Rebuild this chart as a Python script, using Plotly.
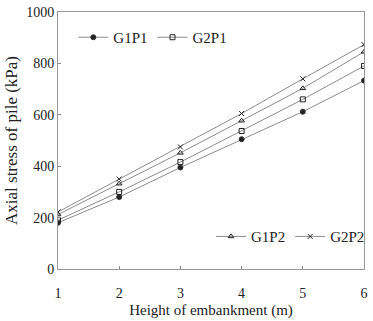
import plotly.graph_objects as go

heights = [1, 2, 3, 4, 5, 6]
g1p1 = [180, 280, 395, 505, 612, 733]
g2p1 = [190, 300, 416, 537, 660, 790]
g1p2 = [212, 332, 452, 577, 703, 845]
g2p2 = [222, 350, 475, 605, 740, 873]

series = [
    ("G1P1", g1p1, "circle", "legend"),
    ("G2P1", g2p1, "square-open", "legend"),
    ("G1P2", g1p2, "triangle-up-open", "legend2"),
    ("G2P2", g2p2, "x-thin-open", "legend2"),
]

fig = go.Figure()
for name, vals, sym, lg in series:
    fig.add_trace(go.Scatter(
        x=heights, y=vals, name=name, mode="lines+markers",
        line=dict(color="#8c8c8c", width=1),
        marker=dict(symbol=sym, size=5, color="#222222",
                    line=dict(color="#333333", width=1)),
        legend=lg,
    ))

font = dict(family="Liberation Serif, Times New Roman, serif", size=14, color="#222222")
fig.update_layout(
    width=373, height=321,
    margin=dict(l=58, r=3, t=12, b=52),
    paper_bgcolor="white", plot_bgcolor="white",
    font=font,
    legend=dict(orientation="h", x=0.05, y=0.965, xanchor="left", yanchor="top",
                bgcolor="rgba(0,0,0,0)", font=dict(size=15), itemwidth=30,
                tracegroupgap=0),
    legend2=dict(orientation="h", x=0.5, y=0.19, xanchor="left", yanchor="top",
                 bgcolor="rgba(0,0,0,0)", font=dict(size=15), itemwidth=30),
    xaxis=dict(range=[1, 6], tickvals=heights, ticks="inside", ticklen=3,
               tickcolor="#888888", showline=True, linecolor="#999999", mirror=True,
               showgrid=False, zeroline=False, ticklabelstandoff=11,
               title=dict(text="Height of embankment (m)", standoff=4, font=dict(size=15))),
    yaxis=dict(range=[0, 1000], tickvals=[0, 200, 400, 600, 800, 1000], ticks="inside",
               ticklen=3, tickcolor="#888888", showline=True, linecolor="#999999",
               mirror=True, showgrid=False, zeroline=False,
               title=dict(text="Axial stress of pile (kPa)", standoff=4, font=dict(size=17))),
)
fig.write_html("out.html", config={"displayModeBar": False},
               post_script="document.body.style.margin='0';document.body.style.overflow='hidden';")
